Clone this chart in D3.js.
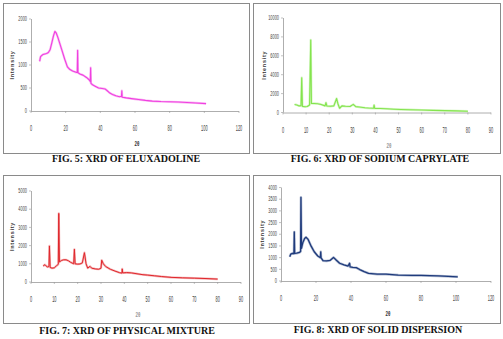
<!DOCTYPE html>
<html>
<head>
<meta charset="utf-8">
<script src="https://cdn.jsdelivr.net/npm/d3@7"></script>
<style>
  body { margin: 0; background: #fff; }
  svg { display: block; }
  .tick-label { font-family: "Liberation Sans Narrow", "Liberation Sans", Arial, sans-serif; fill: #444; }
  .caption { font-family: "Liberation Serif", "Times New Roman", serif; font-weight: bold; font-size: 10px; fill: #111; }
</style>
</head>
<body>
<div id="chart"></div>
<script>
// XRD patterns: [2theta, intensity]
const eluxadoline = [[5,1080],[5.5,1180],[6,1200],[7,1230],[8,1240],[9,1250],[10,1270],[11,1330],[12,1480],[13,1640],[13.8,1730],[14.5,1700],[15.5,1600],[16.5,1480],[18,1300],[19.5,1120],[21,960],[22.5,900],[24,870],[26,840],[26.7,840],[26.9,1320],[27.1,830],[28.5,800],[30,780],[32,730],[33.5,680],[34.2,640],[34.4,940],[34.6,600],[35.5,570],[37,540],[39,500],[41,490],[42.7,480],[44,440],[45.5,390],[47,360],[49,330],[51,310],[52.2,320],[52.4,440],[52.6,300],[55,285],[58,270],[62,250],[66,230],[70,215],[75,205],[80,200],[85,195],[90,185],[95,175],[101,160]];

const sodiumCaprylate = [[5,850],[6,800],[7,700],[7.8,720],[8.1,3680],[8.4,650],[9.5,610],[10.5,640],[11.5,800],[12,7670],[12.3,960],[13.5,950],[15,930],[16.5,850],[18.2,700],[18.6,1040],[19,680],[20.5,660],[22,700],[23.2,1480],[23.8,900],[24.5,450],[25.5,700],[27,660],[29,640],[30.4,860],[31.5,620],[33,580],[35.5,500],[37,470],[39.2,450],[39.4,790],[39.7,440],[42,430],[45,390],[48,350],[51,320],[55,290],[60,260],[65,230],[70,200],[75,170],[80,140]];

const physicalMixture = [[5.2,880],[6,950],[7,820],[7.7,850],[7.9,1980],[8.2,800],[9,760],[10,780],[11,900],[11.7,970],[11.9,3770],[12.2,1100],[13,1180],[14,1220],[15,1220],[16,1170],[17,1080],[18.3,1000],[18.6,1800],[18.9,1000],[20,980],[21,990],[22,1050],[22.9,1610],[23.6,1000],[24.3,760],[25.3,860],[26,760],[27.5,720],[29,700],[30,760],[30.3,1200],[31,1000],[32,850],[34,700],[36,600],[38,510],[39,490],[39.1,720],[39.3,500],[41,520],[43,500],[45,460],[48,400],[50,380],[53,340],[56,300],[60,255],[65,230],[70,210],[75,190],[80,160]];

const solidDispersion = [[5,1040],[5.6,1150],[6.5,1180],[7.4,1170],[7.6,2100],[7.8,1180],[9,1190],[10.5,1220],[11.2,1260],[11.4,3580],[11.7,1400],[12.5,1650],[13.5,1820],[14.3,1870],[15.5,1780],[17.3,1480],[19,1250],[21,1070],[22.5,1000],[22.7,1250],[22.9,990],[24,870],[26,860],[28,880],[30,1010],[31.5,900],[33.5,760],[36,690],[38.3,640],[39.2,760],[39.5,600],[41,580],[43,570],[45,490],[47.5,400],[50,330],[55,290],[60,290],[67,255],[75,240],[80,240],[90,215],[101,180]];

// tick values
const ticks2000 = [0, 500, 1000, 1500, 2000];
const ticks10000 = [0, 2000, 4000, 6000, 8000, 10000];
const ticks5000 = [0, 1000, 2000, 3000, 4000, 5000];
const ticks4000 = [0, 500, 1000, 1500, 2000, 2500, 3000, 3500, 4000];
const ticks120 = [0, 20, 40, 60, 80, 100, 120];
const ticks90 = [0, 10, 20, 30, 40, 50, 60, 70, 80, 90];

const captions = ["FIG. 5: XRD OF ELUXADOLINE", "FIG. 6: XRD OF SODIUM CAPRYLATE",
                  "FIG. 7: XRD OF PHYSICAL MIXTURE", "FIG. 8: XRD OF SOLID DISPERSION"];

const width = 503;
const height = 339;

const svg = d3.select("#chart")
  .append("svg")
    .attr("width", width)
    .attr("height", height);

// one panel = frame + axes + pattern + caption
function drawPanel(p) {
  const g = svg.append("g");

  g.append("rect")
    .attr("x", p.frame[0] + 0.5)
    .attr("y", p.frame[1] + 0.5)
    .attr("width", p.frame[2])
    .attr("height", p.frame[3])
    .attr("fill", "none")
    .attr("stroke", "#8a8a8a")
    .attr("stroke-width", 1);

  const x = d3.scaleLinear().domain([0, p.xTicks[p.xTicks.length - 1]]).range([p.x0, p.x1]);
  const y = d3.scaleLinear().domain([0, p.yTicks[p.yTicks.length - 1]]).range([p.y0, p.y1]);

  // axes lines
  g.append("line")
    .attr("x1", p.x0).attr("x2", p.x1)
    .attr("y1", p.y0 + 0.5).attr("y2", p.y0 + 0.5)
    .attr("stroke", "#999").attr("stroke-width", 0.8);
  g.append("line")
    .attr("x1", p.x0 + 0.5).attr("x2", p.x0 + 0.5)
    .attr("y1", p.y0).attr("y2", p.y1)
    .attr("stroke", "#999").attr("stroke-width", 0.8);

  // y ticks
  g.selectAll(".yt")
    .data(p.yTicks)
    .join("line")
      .attr("x1", p.x0 - 2).attr("x2", p.x0)
      .attr("y1", d => y(d)).attr("y2", d => y(d))
      .attr("stroke", "#999").attr("stroke-width", 0.6);
  g.selectAll(".ylab")
    .data(p.yTicks)
    .join("text")
      .attr("class", "tick-label")
      .attr("text-anchor", "end")
      .attr("transform", d => `translate(${p.x0 - 4},${y(d) + 2.2}) scale(0.65,1.25)`)
      .style("font-size", "6px")
      .text(d => d);

  // x ticks
  g.selectAll(".xt")
    .data(p.xTicks)
    .join("line")
      .attr("x1", d => x(d)).attr("x2", d => x(d))
      .attr("y1", p.y0).attr("y2", p.y0 + 2)
      .attr("stroke", "#999").attr("stroke-width", 0.6);
  g.selectAll(".xlab")
    .data(p.xTicks)
    .join("text")
      .attr("class", "tick-label")
      .attr("text-anchor", "middle")
      .attr("transform", d => `translate(${x(d)},${p.y0 + 20}) scale(0.65,1.5)`)
      .style("font-size", "6px")
      .text(d => d);

  // axis titles
  g.append("text")
    .attr("class", "tick-label")
    .attr("transform", `translate(${p.x0 - 17},${(p.y0 + p.y1) / 2}) rotate(-90)`)
    .attr("text-anchor", "middle")
    .style("font-size", "5.5px")
    .style("font-weight", "bold")
    .style("letter-spacing", "0.7px")
    .style("fill", "#333")
    .text("Intensity");
  g.append("text")
    .attr("class", "tick-label")
    .attr("transform", `translate(${(p.x0 + p.x1) / 2 + 2},${p.y0 + 35}) scale(0.8,1.4)`)
    .attr("text-anchor", "middle")
    .style("font-size", "5.5px")
    .style("font-weight", "bold")
    .style("fill", p.labelColor)
    .text("2θ");

  // pattern: faint wide band for the noise, thin core line on top
  const line = d3.line()
    .x(d => x(d[0]))
    .y(d => y(d[1]));
  g.append("path")
    .datum(p.data)
    .attr("fill", "none")
    .attr("stroke", p.color)
    .attr("stroke-opacity", 0.35)
    .attr("stroke-width", p.strokeWidth + 1.2)
    .attr("stroke-linejoin", "round")
    .attr("d", line);
  g.append("path")
    .datum(p.data)
    .attr("fill", "none")
    .attr("stroke", p.color)
    .attr("stroke-width", p.strokeWidth)
    .attr("stroke-linejoin", "round")
    .attr("d", line);

  g.append("text")
    .attr("class", "caption")
    .attr("x", p.capX)
    .attr("y", p.capY)
    .attr("text-anchor", "middle")
    .text(p.caption);
}

drawPanel({ frame: [3, 3, 246, 150], x0: 31, x1: 239, y0: 111, y1: 19,
  xTicks: ticks120, yTicks: ticks2000, data: eluxadoline, color: "#f040e0", strokeWidth: 1.1,
  labelColor: "#333", caption: captions[0], capX: 126, capY: 161.5 });
drawPanel({ frame: [253, 3, 247, 150], x0: 283, x1: 491, y0: 112.5, y1: 18,
  xTicks: ticks90, yTicks: ticks10000, data: sodiumCaprylate, color: "#84e44e", strokeWidth: 1.1,
  labelColor: "#999", caption: captions[1], capX: 380, capY: 161.5 });
drawPanel({ frame: [3, 175, 246, 148], x0: 31, x1: 241, y0: 282, y1: 191,
  xTicks: ticks90, yTicks: ticks5000, data: physicalMixture, color: "#e0262b", strokeWidth: 1,
  labelColor: "#999", caption: captions[2], capX: 127, capY: 333.5 });
drawPanel({ frame: [253, 175, 247, 148], x0: 281, x1: 491, y0: 281, y1: 187.5,
  xTicks: ticks120, yTicks: ticks4000, data: solidDispersion, color: "#1f3b7c", strokeWidth: 1.3,
  labelColor: "#333", caption: captions[3], capX: 378, capY: 332.5 });
</script>
</body>
</html>
